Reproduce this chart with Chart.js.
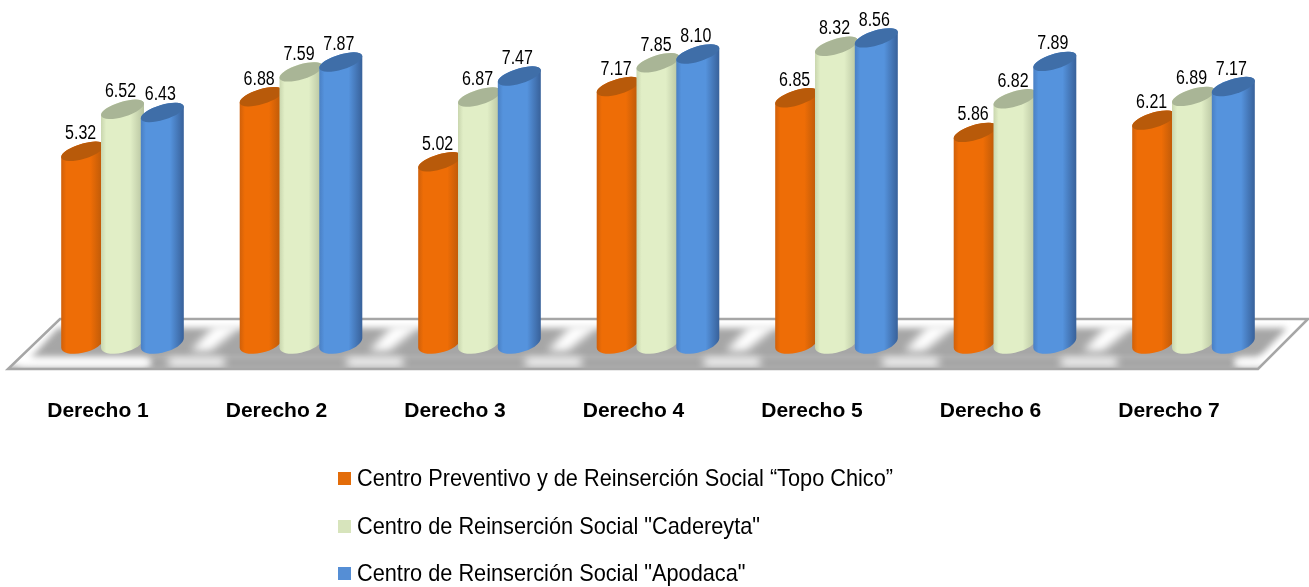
<!DOCTYPE html>
<html lang="es">
<head>
<meta charset="utf-8">
<title>Derechos por centro</title>
<script src="https://cdn.jsdelivr.net/npm/chart.js@4/dist/chart.umd.js"></script>
<style>
    html, body { margin: 0; padding: 0; background: #fff; overflow: hidden; }
    #wrap { position: relative; width: 1309px; height: 587px; }
    #legend div {
        position: absolute; left: 338px; height: 30px; line-height: 30px; white-space: nowrap;
        font: 24px "Liberation Sans", sans-serif; color: #000;
    }
    #legend i { display: inline-block; width: 13px; height: 13px; margin-right: 6px; vertical-align: 1px; }
    #legend span { display: inline-block; transform: scaleX(0.905); transform-origin: left center; }
</style>
</head>
<body>
<div id="wrap">
    <canvas id="derechosChart" width="1309" height="587"></canvas>
    <div id="legend"></div>
</div>
<script>
const categories = ["Derecho 1", "Derecho 2", "Derecho 3", "Derecho 4", "Derecho 5", "Derecho 6", "Derecho 7"];
const seriesNames = [
    "Centro Preventivo y de Reinserción Social “Topo Chico”",
    "Centro de Reinserción Social \"Cadereyta\"",
    "Centro de Reinserción Social \"Apodaca\""
];
const topoChico = [5.32, 6.88, 5.02, 7.17, 6.85, 5.86, 6.21];
const cadereyta = [6.52, 7.59, 6.87, 7.85, 8.32, 6.82, 6.89];
const apodaca = [6.43, 7.87, 7.47, 8.10, 8.56, 7.89, 7.17];

const legendColors = ["#E36C09", "#D7E4BC", "#558ED5"];
// left edge, body, right edge, top cap
const shades = [
    ["#D0600A", "#EE6D06", "#B65709", "#B85A0A"],
    ["#C9D6AE", "#E1EEC6", "#B5C19E", "#A9B596"],
    ["#4A80C4", "#5593DD", "#38619A", "#3F6EA8"]
];

// cuerpo del cilindro con la tapa inclinada
function drawCylinder(ctx, bar, colors) {
    const w = bar.width;
    const topB = 7.5, topTilt = -17 * Math.PI / 180;
    const botB = 9.5, botTilt = -15 * Math.PI / 180;
    const radius = (b, tilt) => Math.sqrt((w * w / 4 - Math.pow(b * Math.sin(tilt), 2)) / Math.pow(Math.cos(tilt), 2));
    const topA = radius(topB, topTilt), botA = radius(botB, botTilt);
    const topY = bar.y - 5.5, botY = bar.base;
    // angulo del punto extremo derecho de cada elipse
    const t1 = Math.atan2(-topB * Math.sin(topTilt), topA * Math.cos(topTilt));
    const t2 = Math.atan2(-botB * Math.sin(botTilt), botA * Math.cos(botTilt));

    const grad = ctx.createLinearGradient(bar.x - w / 2, 0, bar.x + w / 2, 0);
    grad.addColorStop(0, colors[0]);
    grad.addColorStop(0.12, colors[1]);
    grad.addColorStop(0.68, colors[1]);
    grad.addColorStop(1, colors[2]);

    ctx.beginPath();
    ctx.ellipse(bar.x, botY, botA, botB, botTilt, t2, t2 + Math.PI);
    ctx.ellipse(bar.x, topY, topA, topB, topTilt, t1 + Math.PI, t1 + 2 * Math.PI);
    ctx.closePath();
    ctx.fillStyle = grad;
    ctx.fill();

    ctx.beginPath();
    ctx.ellipse(bar.x, topY, topA, topB, topTilt, 0, 2 * Math.PI);
    ctx.fillStyle = colors[3];
    ctx.fill();
}

function drawFloor(ctx, chart) {
    const y0 = chart.scales.y.getPixelForValue(0);
    const xs = categories.map((c, i) => chart.scales.x.getPixelForValue(i));
    const floor = [[60, y0 - 24], [1308, y0 - 24], [1258, y0 + 26], [8, y0 + 26]];
    const path = pts => {
        ctx.beginPath();
        pts.forEach((p, i) => i ? ctx.lineTo(p[0], p[1]) : ctx.moveTo(p[0], p[1]));
        ctx.closePath();
    };

    ctx.save();
    path(floor);
    ctx.fillStyle = "#fff";
    ctx.fill();
    ctx.clip();

    ctx.filter = "blur(3px)";
    ctx.fillStyle = "#A6A6A6";
    path([[58, y0 - 15], [1287, y0 - 15], [1257, y0 + 16], [30, y0 + 16]]);
    ctx.fill();
    ctx.fillRect(0, y0 + 23, 1309, 8);
    ctx.fillRect(150, y0 + 12, 1085, 16);

    ctx.filter = "blur(4px)";
    ctx.fillStyle = "#fff";
    xs.slice(0, -1).forEach(x => {
        path([[x + 92, y0 - 18], [x + 120, y0 - 18], [x + 88, y0 + 8], [x + 68, y0 + 8]]);
        ctx.fill();
        ctx.fillRect(x + 46, y0 + 15, 56, 8);
    });
    ctx.fillRect(18, y0 + 15, 130, 8);
    ctx.fillRect(xs[6] + 44, y0 + 15, 30, 8);
    ctx.restore();

    ctx.save();
    path(floor);
    ctx.strokeStyle = "#A6A6A6";
    ctx.lineWidth = 2.5;
    ctx.stroke();
    ctx.restore();
}

const cylinderPlugin = {
    id: "cylinders",
    beforeDatasetsDraw(chart) {
        drawFloor(chart.ctx, chart);
    },
    beforeDatasetDraw() {
        return false;
    },
    afterDatasetsDraw(chart) {
        const ctx = chart.ctx;
        chart.data.datasets.forEach((ds, i) => {
            chart.getDatasetMeta(i).data.forEach(bar => drawCylinder(ctx, bar, shades[i]));
        });
        ctx.fillStyle = "#000";
        ctx.font = '20px "Liberation Sans", sans-serif';
        ctx.textAlign = "center";
        ctx.textBaseline = "middle";
        chart.data.datasets.forEach((ds, i) => {
            chart.getDatasetMeta(i).data.forEach((bar, j) => {
                ctx.save();
                ctx.translate(bar.x - 2, bar.y - 23);
                ctx.scale(0.8, 1);
                ctx.fillText(ds.data[j].toFixed(2), 0, 0);
                ctx.restore();
            });
        });
    }
};

const chart = new Chart(document.getElementById("derechosChart").getContext("2d"), {
    type: "bar",
    data: {
        labels: categories,
        datasets: [
            { label: seriesNames[0], data: topoChico, backgroundColor: legendColors[0] },
            { label: seriesNames[1], data: cadereyta, backgroundColor: legendColors[1] },
            { label: seriesNames[2], data: apodaca, backgroundColor: legendColors[2] }
        ]
    },
    options: {
        responsive: false,
        animation: false,
        categoryPercentage: 0.669,
        barPercentage: 1.08,
        layout: { padding: { left: 33.25, right: 26.25, top: 0, bottom: 144 } },
        plugins: { legend: { display: false }, tooltip: { enabled: false } },
        scales: {
            x: {
                grid: { display: false },
                border: { display: false },
                afterFit: s => { s.height = 100; },
                ticks: {
                    color: "#000",
                    font: { family: '"Liberation Sans", sans-serif', size: 21, weight: "bold" },
                    padding: 48,
                    labelOffset: -24.5,
                    maxRotation: 0
                }
            },
            y: { display: false, min: 0, max: 9.8 }
        }
    },
    plugins: [cylinderPlugin]
});

// leyenda vertical como en el original
const legendTops = [464, 512, 559];
document.getElementById("legend").innerHTML = seriesNames.map((name, i) =>
    `<div style="top:${legendTops[i]}px"><i style="background:${legendColors[i]}"></i><span>${name}</span></div>`
).join("");
</script>
</body>
</html>
